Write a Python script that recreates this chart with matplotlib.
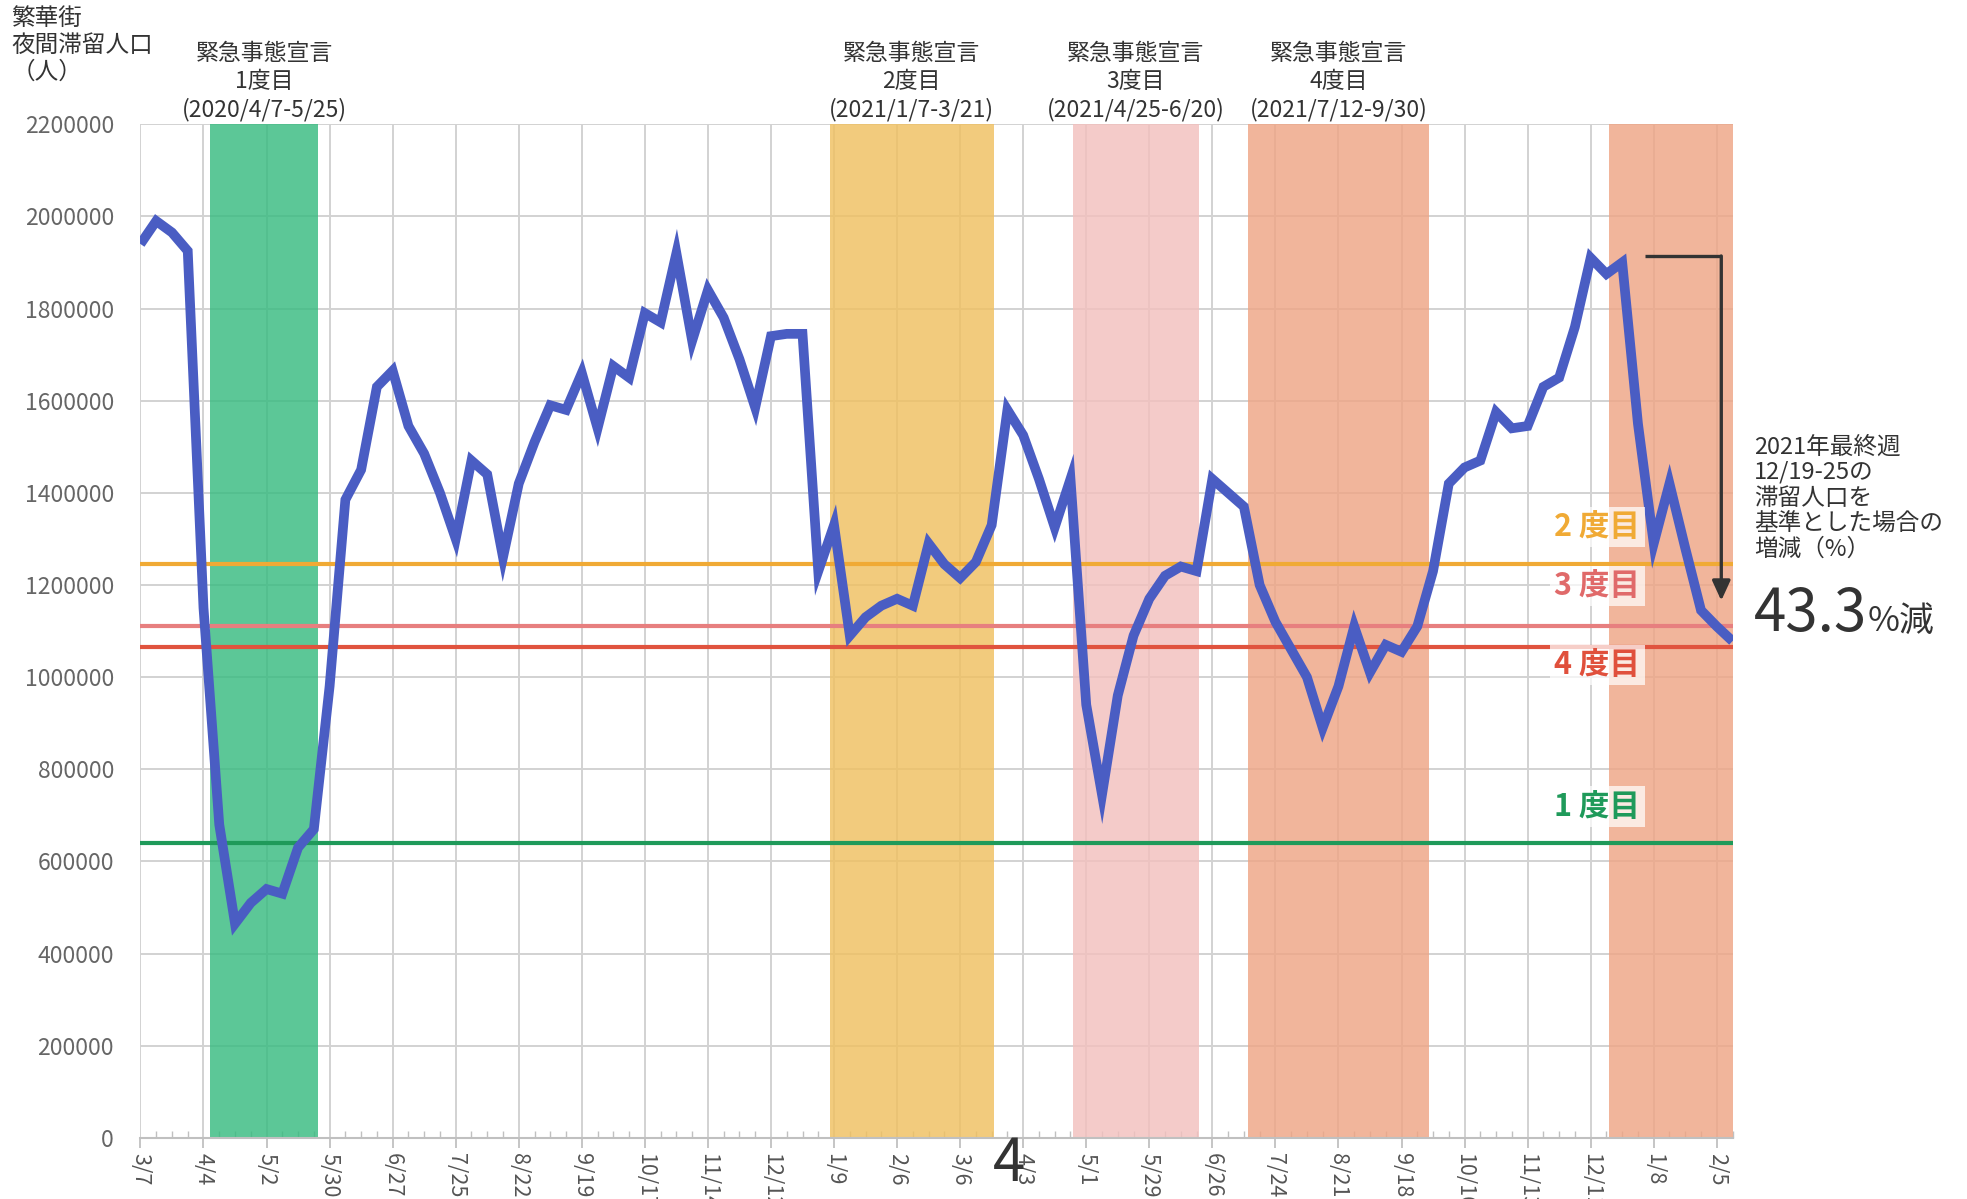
import matplotlib
matplotlib.use("Agg")
import matplotlib.pyplot as plt
import matplotlib.dates as mdates
import pandas as pd
from matplotlib.ticker import FixedLocator, FuncFormatter

plt.rcParams["font.family"] = ["Noto Sans CJK JP", "DejaVu Sans"]

# weekly night-time population in the entertainment district (persons)
POPULATION = [
    1940000, 1990000, 1965000, 1925000, 1150000, 680000, 465000, 510000,
    540000, 530000, 630000, 670000, 980000, 1385000, 1450000, 1630000,
    1665000, 1545000, 1485000, 1400000, 1300000, 1470000, 1440000, 1260000,
    1420000, 1510000, 1590000, 1580000, 1660000, 1540000, 1675000, 1650000,
    1790000, 1770000, 1920000, 1730000, 1840000, 1780000, 1690000, 1585000,
    1740000, 1745000, 1745000, 1230000, 1330000, 1090000, 1130000, 1155000,
    1170000, 1155000, 1290000, 1245000, 1215000, 1250000, 1330000, 1580000,
    1525000, 1430000, 1325000, 1430000, 940000, 745000, 960000, 1090000,
    1170000, 1220000, 1240000, 1230000, 1430000, 1400000, 1370000, 1200000,
    1120000, 1060000, 1000000, 890000, 980000, 1110000, 1010000, 1070000,
    1055000, 1110000, 1230000, 1420000, 1455000, 1470000, 1575000, 1540000,
    1545000, 1630000, 1650000, 1760000, 1910000, 1875000, 1900000, 1550000,
    1290000, 1420000, 1280000, 1145000, 1110000, 1078000,
]
START = "2020-03-07"
BASE_WEEK = 94  # 2021 final week 12/19-25

PERIOD_STARTS = ["2020-04-07", "2021-01-07", "2021-04-25", "2021-07-12"]
PERIOD_ENDS = ["2020-05-25", "2021-03-21", "2021-06-20", "2021-09-30"]
PERIOD_NAMES = [
    "緊急事態宣言\n1度目\n(2020/4/7-5/25)",
    "緊急事態宣言\n2度目\n(2021/1/7-3/21)",
    "緊急事態宣言\n3度目\n(2021/4/25-6/20)",
    "緊急事態宣言\n4度目\n(2021/7/12-9/30)",
]
LAST_BAND_START = "2021-12-19"

LEVEL_NAMES = ["1度目", "2度目", "3度目", "4度目"]
LEVEL_VALUES = [640000, 1245000, 1110000, 1065000]
LEVEL_LABEL_Y = [719000, 1326000, 1198000, 1026000]

BAND_COLORS = ["#38bb80", "#f0c060", "#f2c0be", "#efa585"]
LEVEL_COLORS = ["#1f9a5a", "#f0aa35", "#e77f7f", "#e0533e"]
TEXT_COLORS = ["#1f9a5a", "#f0aa35", "#e06a6a", "#e0503c"]
LINE_COLOR = "#4a5dc3"


def main():
    dates = pd.date_range(START, periods=len(POPULATION), freq="7D")

    fig = plt.figure(figsize=(19.67, 11.99), dpi=100)
    ax = fig.add_axes([0.0714, 0.051, 0.8094, 0.8454])
    ax.set_axisbelow(True)

    # emergency periods
    for s, e, c, name in zip(PERIOD_STARTS, PERIOD_ENDS, BAND_COLORS, PERIOD_NAMES):
        s, e = pd.Timestamp(s), pd.Timestamp(e)
        ax.axvspan(s, e, color=c, alpha=0.82, lw=0, zorder=1)
        ax.text(s + (e - s) / 2, 1.003, name, transform=ax.get_xaxis_transform(),
                ha="center", va="bottom", fontsize=16.5, color="#333333",
                linespacing=1.25)
    ax.axvspan(pd.Timestamp(LAST_BAND_START), dates[-1], color=BAND_COLORS[3],
               alpha=0.82, lw=0, zorder=1)

    # levels during each declaration
    for v, c in zip(LEVEL_VALUES, LEVEL_COLORS):
        ax.axhline(v, color=c, lw=3.0, zorder=2)

    ax.plot(dates, POPULATION, color=LINE_COLOR, lw=7, zorder=3,
            solid_joinstyle="miter", solid_capstyle="butt")

    label_x = dates[92] + pd.Timedelta(days=3)
    for name, y, c in zip(LEVEL_NAMES, LEVEL_LABEL_Y, TEXT_COLORS):
        ax.text(label_x, y, name[0] + " " + name[1:], ha="center", va="center",
                fontsize=22, fontweight="bold", color=c, zorder=4,
                bbox=dict(facecolor="white", alpha=0.72, edgecolor="none",
                          pad=3))

    # arrow from 2021 final week to latest week
    base = POPULATION[BASE_WEEK]
    last = POPULATION[-1]
    ax_x0 = dates[BASE_WEEK] + pd.Timedelta(days=10)
    ax_x1 = dates[-2] + pd.Timedelta(days=2)
    ax.plot([ax_x0, ax_x1], [base + 14000, base + 14000], color="#333333",
            lw=2.4, zorder=5, solid_capstyle="butt")
    ax.annotate("", xy=(ax_x1, 1160000), xytext=(ax_x1, base + 20000),
                arrowprops=dict(arrowstyle="-|>,head_width=0.55,head_length=1.2",
                                color="#333333", lw=2.4), zorder=5)

    # axes
    ax.set_xlim(dates[0], dates[-1])
    ax.set_ylim(0, 2200000)
    ax.xaxis.set_major_locator(FixedLocator(mdates.date2num(dates[::4])))
    ax.xaxis.set_minor_locator(FixedLocator(mdates.date2num(dates)))
    ax.set_xticklabels([f"{d.month}/{d.day}" for d in dates[::4]],
                       rotation=-90, fontsize=15.5, color="#555555")
    ax.set_yticks(range(0, 2200001, 200000))
    ax.yaxis.set_major_formatter(FuncFormatter(lambda v, p: f"{int(v)}"))
    ax.tick_params(axis="y", length=0, pad=19, labelsize=16.5,
                   labelcolor="#666666")
    ax.tick_params(axis="x", which="major", direction="out", length=7,
                   width=1.3, color="#c0c0c0", pad=4)
    ax.tick_params(axis="x", which="minor", direction="in", length=5,
                   width=1.0, color="#c0c0c0")
    ax.grid(True, which="major", color="#d2d2d2", lw=1.4)
    for side in ["top", "right", "left"]:
        ax.spines[side].set_visible(False)
    ax.spines["bottom"].set_color("#c0c0c0")
    ax.spines["bottom"].set_linewidth(1.5)

    fig.text(0.006, 0.994, "繁華街\n夜間滞留人口\n（人）", ha="left", va="top",
             fontsize=17, color="#333333", linespacing=1.2)

    fig.text(0.8916, 0.637,
             "2021年最終週\n12/19-25の\n滞留人口を\n基準とした場合の\n増減（%）",
             ha="left", va="top", fontsize=17, color="#333333",
             linespacing=1.15)
    pct = (1 - last / base) * 100
    fig.text(0.8916, 0.474, f"{pct:.1f}", ha="left", va="baseline",
             fontsize=42, color="#333333")
    fig.text(0.9495, 0.474, "%減", ha="left", va="baseline", fontsize=25,
             color="#333333")

    # page number from the printed source
    fig.text(0.513, 0.029, "4", ha="center", va="center", fontsize=42,
             color="#333333")

    fig.savefig("out.png", dpi=100)


if __name__ == "__main__":
    main()
